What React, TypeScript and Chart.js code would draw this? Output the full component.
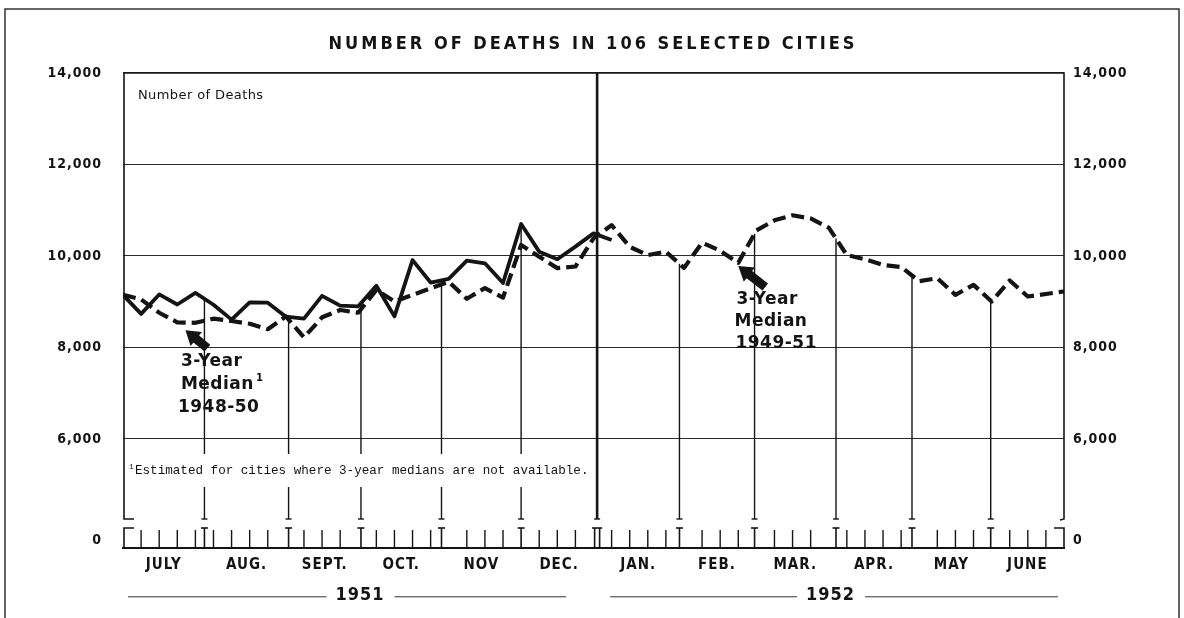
import React, { useEffect, useRef } from "react";
import { Chart, registerables } from "chart.js";

Chart.register(...registerables);

// ---------- data ----------
const weekIndex = [
  0, 1, 2, 3, 4, 5, 6, 7, 8, 9, 10, 11, 12, 13, 14, 15, 16, 17, 18, 19, 20, 21, 22, 23, 24, 25, 26,
  27, 28, 29, 30, 31, 32, 33, 34, 35, 36, 37, 38, 39, 40, 41, 42, 43, 44, 45, 46, 47, 48, 49, 50, 51, 52,
];

// weekly deaths, July 1951 - early January 1952 (solid line)
const actualDeaths = [
  9150, 8735, 9160, 8940, 9195, 8935, 8610, 8985, 8980, 8675, 8630, 9130, 8915, 8900, 9350, 8680,
  9910, 9420, 9500, 9900, 9840, 9410, 10700, 10095, 9930, 10205, 10495, 10350,
];

// 3-year median (dashed line), July 1951 - June 1952
const medianDeaths = [
  9150, 9050, 8760, 8550, 8540, 8630, 8580, 8520, 8400, 8680, 8220, 8660, 8820, 8760, 9260, 9005,
  9150, 9295, 9440, 9065, 9300, 9090, 10240, 9985, 9735, 9770, 10385, 10675, 10200, 10020, 10095,
  9740, 10290, 10115, 9850, 10560, 10780, 10890, 10820, 10620, 10020, 9930, 9805, 9760, 9450, 9515,
  9150, 9370, 9005, 9465, 9115, 9170, 9225,
];

const monthNames = ["JULY", "AUG.", "SEPT.", "OCT.", "NOV", "DEC.", "JAN.", "FEB.", "MAR.", "APR.", "MAY", "JUNE"];
const monthStarts = [0, 4.5, 9.15, 13.15, 17.6, 22.0, 26.2, 30.75, 34.9, 39.4, 43.6, 47.95, 52];
const yearLabels = ["1951", "1952"];
const yearStarts = [0, 26.2, 52];
const yTickValues = [6000, 8000, 10000, 12000, 14000];
const ZERO_TICK = 3790; // where the "0" label sits below the axis break
const Y_MIN = 3618;
const Y_MAX = 14000;

const TITLE = "NUMBER OF DEATHS IN 106 SELECTED CITIES";
const AXIS_NOTE = "Number of Deaths";
const FOOTNOTE = "Estimated for cities where 3-year medians are not available.";
const leftNote = ["3-Year", "Median", "1948-50"];
const rightNote = ["3-Year", "Median", "1949-51"];

// ---------- styling ----------
const INK = "#141414";
const SANS = '"DejaVu Sans", "Open Sans", sans-serif';
const COND = '"DejaVu Sans Condensed", "Liberation Sans Narrow", "DejaVu Sans", sans-serif';
const MONO = '"Liberation Mono", "DejaVu Sans Mono", monospace';

function fmt(v: number) {
  return String(v).replace(/\B(?=(\d{3})+(?!\d))/g, ",");
}

function valueAt(arr: number[], w: number): number {
  if (w < 0 || w > arr.length - 1) return -Infinity;
  const i = Math.floor(w);
  if (i >= arr.length - 1) return arr[arr.length - 1];
  const f = w - i;
  return arr[i] * (1 - f) + arr[i + 1] * f;
}

function drawText(
  ctx: CanvasRenderingContext2D,
  s: string,
  x: number,
  y: number,
  font: string,
  align: CanvasTextAlign = "left",
  spacing = "0px"
) {
  ctx.font = font;
  ctx.textAlign = align;
  ctx.textBaseline = "middle";
  (ctx as any).letterSpacing = spacing;
  ctx.fillText(s, x, y);
}

function drawArrow(ctx: CanvasRenderingContext2D, tipX: number, tipY: number, tailX: number, tailY: number) {
  const dx = tipX - tailX;
  const dy = tipY - tailY;
  const len = Math.hypot(dx, dy);
  const ux = dx / len;
  const uy = dy / len;
  const px = -uy;
  const py = ux;
  const headLen = 14;
  const headW = 9;
  const shaftW = 4.5;
  const bx = tipX - ux * headLen;
  const by = tipY - uy * headLen;
  ctx.beginPath();
  ctx.moveTo(tipX, tipY);
  ctx.lineTo(bx + px * headW, by + py * headW);
  ctx.lineTo(bx + px * shaftW, by + py * shaftW);
  ctx.lineTo(tailX + px * shaftW, tailY + py * shaftW);
  ctx.lineTo(tailX - px * shaftW, tailY - py * shaftW);
  ctx.lineTo(bx - px * shaftW, by - py * shaftW);
  ctx.lineTo(bx - px * headW, by - py * headW);
  ctx.closePath();
  ctx.fill();
}

function line(ctx: CanvasRenderingContext2D, x1: number, y1: number, x2: number, y2: number) {
  ctx.beginPath();
  ctx.moveTo(x1, y1);
  ctx.lineTo(x2, y2);
  ctx.stroke();
}

const decorPlugin = {
  id: "decor",
  beforeDraw(chart: any) {
    const ctx: CanvasRenderingContext2D = chart.ctx;
    ctx.save();
    ctx.fillStyle = "#fff";
    ctx.fillRect(0, 0, chart.width, chart.height);
    ctx.restore();
    (ctx as any).letterSpacing = "1px";
  },
  beforeDatasetsDraw(chart: any) {
    const ctx: CanvasRenderingContext2D = chart.ctx;
    const { left, right, top, bottom } = chart.chartArea;
    const x = chart.scales.x;
    const y = chart.scales.y;
    ctx.save();
    (ctx as any).letterSpacing = "0px";
    ctx.strokeStyle = INK;
    ctx.fillStyle = INK;
    ctx.lineCap = "butt";

    const bracketBottom = bottom - 29;
    const footY = y.getPixelForValue(6000) + 32;

    // page frame
    ctx.lineWidth = 1.5;
    ctx.strokeStyle = "#333";
    ctx.beginPath();
    ctx.moveTo(5, chart.height);
    ctx.lineTo(5, 9);
    ctx.lineTo(1179, 9);
    ctx.lineTo(1179, chart.height);
    ctx.stroke();

    // plot frame (open at the bottom, bracket feet)
    ctx.strokeStyle = INK;
    ctx.lineWidth = 1.6;
    ctx.beginPath();
    ctx.moveTo(left + 11, bracketBottom);
    ctx.lineTo(left + 1, bracketBottom);
    ctx.lineTo(left + 1, top);
    ctx.lineTo(right, top);
    ctx.lineTo(right, bracketBottom);
    ctx.lineTo(right - 4, bracketBottom + 1);
    ctx.stroke();

    // month divider lines (from the curves down to the bracket)
    for (let i = 1; i < monthStarts.length - 1; i++) {
      const b = monthStarts[i];
      const px = x.getPixelForValue(b);
      const isYear = b === yearStarts[1];
      const yTop = isYear
        ? top
        : y.getPixelForValue(Math.max(valueAt(actualDeaths, b), valueAt(medianDeaths, b)));
      ctx.lineWidth = isYear ? 2.6 : 1.4;
      if (!isYear && px < 592) {
        line(ctx, px, yTop, px, footY - 17);
        line(ctx, px, footY + 16, px, bracketBottom);
      } else {
        line(ctx, px, yTop, px, bracketBottom);
      }
      ctx.lineWidth = 1.4;
      line(ctx, px - 3, bracketBottom, px + 3, bracketBottom);
    }

    // weekly tick strip
    const base = bottom;
    ctx.lineWidth = 1.4;
    for (let w = 1; w < 52; w++) {
      const near = monthStarts.some((b) => Math.abs(b - w) < 0.5);
      if (near) continue;
      const px = x.getPixelForValue(w);
      line(ctx, px, base, px, base - 18);
    }
    for (let i = 1; i < monthStarts.length - 1; i++) {
      const b = monthStarts[i];
      const px = x.getPixelForValue(b);
      ctx.lineWidth = 1.6;
      if (b === yearStarts[1]) {
        line(ctx, px - 2.5, base, px - 2.5, base - 20);
        line(ctx, px + 2.5, base, px + 2.5, base - 20);
        line(ctx, px - 5, base - 20, px + 5, base - 20);
      } else {
        line(ctx, px, base, px, base - 20);
        line(ctx, px - 3.5, base - 20, px + 3.5, base - 20);
      }
    }
    ctx.lineWidth = 1.6;
    ctx.beginPath();
    ctx.moveTo(left + 1, base);
    ctx.lineTo(left + 1, base - 20);
    ctx.lineTo(left + 11, base - 20);
    ctx.stroke();
    ctx.beginPath();
    ctx.moveTo(right, base);
    ctx.lineTo(right, base - 20);
    ctx.lineTo(right - 10, base - 20);
    ctx.stroke();

    // year rules beside the year labels
    const x2 = chart.scales.x2;
    const yearY = x2.top + 10 + 10.8 + 1;
    ctx.font = `bold 18px ${COND}`;
    (ctx as any).letterSpacing = "1px";
    ctx.lineWidth = 1;
    ctx.strokeStyle = "#333";
    for (let i = 0; i < yearLabels.length; i++) {
      const a = x.getPixelForValue(yearStarts[i]);
      const c = x.getPixelForValue(yearStarts[i + 1]);
      const mid = x.getPixelForValue((yearStarts[i] + yearStarts[i + 1]) / 2);
      const half = ctx.measureText(yearLabels[i]).width / 2;
      const s = i === 0 ? a + 5 : a + 13;
      const e = i === 0 ? c - 31 : c - 6;
      line(ctx, s, yearY, mid - half - 9, yearY);
      line(ctx, mid + half + 10, yearY, e, yearY);
    }
    ctx.restore();
  },
  afterDraw(chart: any) {
    const ctx: CanvasRenderingContext2D = chart.ctx;
    const { left, top } = chart.chartArea;
    const x = chart.scales.x;
    const y = chart.scales.y;
    ctx.save();
    ctx.fillStyle = INK;

    // title
    drawText(ctx, TITLE, chart.width / 2 + 1, 44, `bold 18px ${COND}`, "center", "3px");

    // axis note
    drawText(ctx, AXIS_NOTE, left + 15, top + 23, `13px ${SANS}`, "left", "0.4px");

    // footnote
    const footY = y.getPixelForValue(6000) + 32;
    drawText(ctx, "1", left + 6, footY - 4, `8px ${MONO}`, "left", "0px");
    drawText(ctx, FOOTNOTE, left + 12, footY, `12.6px ${MONO}`, "left", "0px");

    // left annotation: 3-Year Median(1) 1948-50
    const lx = x.getPixelForValue(3.2);
    const ly = y.getPixelForValue(7700);
    const noteFont = `bold 17px ${SANS}`;
    drawText(ctx, leftNote[0], lx, ly, noteFont, "left", "0.5px");
    drawText(ctx, leftNote[1], lx, ly + 23, noteFont, "left", "0.5px");
    ctx.font = noteFont;
    (ctx as any).letterSpacing = "0.5px";
    const mw = ctx.measureText(leftNote[1]).width;
    drawText(ctx, "1", lx + mw + 2, ly + 17, `bold 10px ${SANS}`, "left", "0px");
    drawText(ctx, leftNote[2], lx - 3, ly + 46, noteFont, "left", "0.5px");

    // right annotation: 3-Year Median 1949-51
    const rx = x.getPixelForValue(33.9);
    const ry = y.getPixelForValue(9040);
    drawText(ctx, rightNote[0], rx, ry, noteFont, "left", "0.5px");
    drawText(ctx, rightNote[1], rx - 2, ry + 22, noteFont, "left", "0.5px");
    drawText(ctx, rightNote[2], rx - 1, ry + 44, noteFont, "left", "0.5px");

    // pointer arrows
    const t1x = x.getPixelForValue(3.45);
    const t1y = y.getPixelForValue(8380);
    drawArrow(ctx, t1x, t1y, t1x + 22, t1y + 18);
    const t2x = x.getPixelForValue(34.0);
    const t2y = y.getPixelForValue(9781);
    drawArrow(ctx, t2x, t2y, t2x + 27, t2y + 21);

    ctx.restore();
    (ctx as any).letterSpacing = "0px";
  },
};

function buildConfig(): any {
  const actualPts = actualDeaths.map((v, i) => ({ x: weekIndex[i], y: v }));
  const medianPts = medianDeaths.map((v, i) => ({ x: weekIndex[i], y: v }));
  const yTicks = [ZERO_TICK, ...yTickValues];
  const tickFont = { family: COND, size: 14, weight: "bold" };
  return {
    type: "line",
    data: {
      datasets: [
        {
          label: "Deaths",
          data: actualPts,
          borderColor: INK,
          borderWidth: 3.8,
          pointRadius: 0,
          tension: 0,
          fill: false,
          borderJoinStyle: "round",
        },
        {
          label: "3-Year Median",
          data: medianPts,
          borderColor: INK,
          borderWidth: 4.2,
          borderDash: [13, 6],
          pointRadius: 0,
          tension: 0,
          fill: false,
          borderJoinStyle: "round",
        },
      ],
    },
    options: {
      responsive: false,
      animation: false,
      events: [],
      layout: { padding: { top: 73, left: 0, right: 0, bottom: 0 } },
      plugins: {
        legend: { display: false },
        tooltip: { enabled: false },
        title: { display: false },
      },
      scales: {
        x: {
          type: "linear",
          position: "bottom",
          min: 0,
          max: 52,
          afterBuildTicks: (s: any) => {
            s.ticks = monthNames.map((_, i) => ({ value: (monthStarts[i] + monthStarts[i + 1]) / 2 }));
          },
          ticks: {
            autoSkip: false,
            maxRotation: 0,
            minRotation: 0,
            padding: 8,
            color: INK,
            font: { family: COND, size: 15, weight: "bold" },
            callback: (_v: any, i: number) => monthNames[i],
          },
          grid: { display: false, drawTicks: false },
          border: { display: true, color: INK, width: 2 },
          afterFit: (s: any) => {
            s.height = 27;
          },
        },
        x2: {
          type: "linear",
          position: "bottom",
          min: 0,
          max: 52,
          afterBuildTicks: (s: any) => {
            s.ticks = yearLabels.map((_, i) => ({ value: (yearStarts[i] + yearStarts[i + 1]) / 2 }));
          },
          ticks: {
            autoSkip: false,
            maxRotation: 0,
            minRotation: 0,
            padding: 10,
            color: INK,
            font: { family: COND, size: 18, weight: "bold" },
            callback: (_v: any, i: number) => yearLabels[i],
          },
          grid: { display: false, drawTicks: false },
          border: { display: false },
          afterFit: (s: any) => {
            s.height = 43;
          },
        },
        y: {
          type: "linear",
          position: "left",
          min: Y_MIN,
          max: Y_MAX,
          afterBuildTicks: (s: any) => {
            s.ticks = yTicks.map((v) => ({ value: v }));
          },
          ticks: {
            padding: 21,
            color: INK,
            font: tickFont,
            callback: (v: any) => (v === ZERO_TICK ? "0" : fmt(v)),
          },
          grid: {
            drawTicks: false,
            lineWidth: 1.1,
            color: (c: any) => (c.tick && c.tick.value === ZERO_TICK ? "rgba(0,0,0,0)" : "#2a2a2a"),
          },
          border: { display: false },
          afterFit: (s: any) => {
            s.width = 123;
          },
        },
        y2: {
          type: "linear",
          position: "right",
          min: Y_MIN,
          max: Y_MAX,
          afterBuildTicks: (s: any) => {
            s.ticks = yTicks.map((v) => ({ value: v }));
          },
          ticks: {
            padding: 9,
            color: INK,
            font: tickFont,
            callback: (v: any) => (v === ZERO_TICK ? "0" : fmt(v)),
          },
          grid: { display: false, drawTicks: false },
          border: { display: false },
          afterFit: (s: any) => {
            s.width = 120;
          },
        },
      },
    },
    plugins: [decorPlugin],
  };
}

export default function App() {
  const ref = useRef<HTMLCanvasElement>(null);
  useEffect(() => {
    if (!ref.current) return;
    const chart = new Chart(ref.current, buildConfig());
    return () => chart.destroy();
  }, []);
  return (
    <div style={{ position: "fixed", left: 0, top: 0, width: 1184, height: 618, background: "#fff" }}>
      <canvas ref={ref} width={1184} height={618} style={{ display: "block", width: 1184, height: 618 }} />
    </div>
  );
}
